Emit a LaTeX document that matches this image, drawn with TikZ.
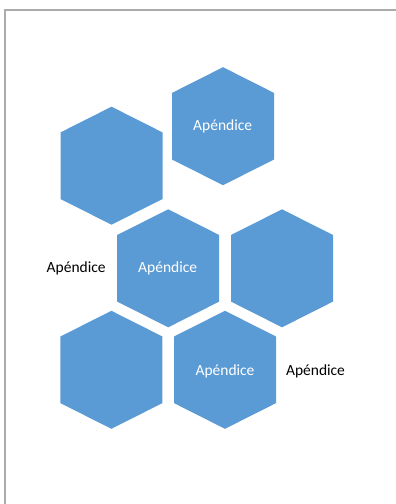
\documentclass[tikz,border=0pt]{standalone}
\usepackage{fontspec}
\setmainfont{Carlito}
\definecolor{hexblue}{HTML}{5B9BD5}
\definecolor{frame}{HTML}{ABABAB}
\begin{document}
\begin{tikzpicture}[x=1pt,y=-1pt,
  hexfill/.style={fill=hexblue},
  inlabel/.style={text=white,font=\fontsize{15.5}{18}\selectfont,inner sep=0pt},
  outlabel/.style={text=black,font=\fontsize{15.5}{18}\selectfont,inner sep=0pt}]
\useasboundingbox (0,0) rectangle (396,504);
\draw[frame,line width=2pt] (5.3,505) -- (5.3,10) -- (397,10);
\def\hex#1{\fill[hexfill,shift={#1}] (-51,-33.3) -- (0,-59) -- (51,-33.3) -- (51,33.3) -- (0,59) -- (-51,33.3) -- cycle;}
\hex{(223,126.2)}
\hex{(111.5,165.7)}
\hex{(168.2,268.3)}
\hex{(282,268.3)}
\hex{(111.4,369.8)}
\hex{(225,369.8)}
\node[inlabel] (la) at (222.7,126) {Apéndice};
\node[inlabel] (lc) at (167.7,268) {Apéndice};
\node[inlabel] (lf) at (225,371) {Apéndice};
\node[outlabel] (lo1) at (76.2,268) {Apéndice};
\node[outlabel] (lo2) at (315.5,371) {Apéndice};
\end{tikzpicture}
\end{document}
